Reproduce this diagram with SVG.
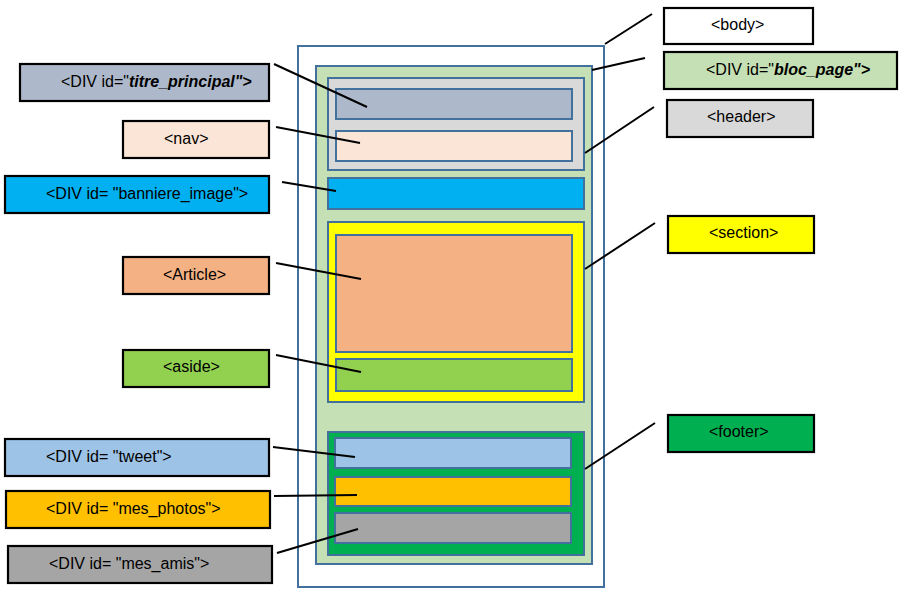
<svg xmlns="http://www.w3.org/2000/svg" width="906" height="592" viewBox="0 0 906 592">
<style>
.blk{stroke:#41719C;stroke-width:2}
.lbl{stroke:#000;stroke-width:2.2}
.t{font-family:"Liberation Sans",Arial,sans-serif;font-size:16px;fill:#000}
.bi{font-weight:bold;font-style:italic}
.con line{stroke:#000;stroke-width:2}
</style>
<rect width="906" height="592" fill="#fff"/>
<g id="structure">
<rect id="body-box" class="blk" x="298" y="46" width="306" height="541" fill="#fff"/>
<rect id="bloc_page-box" class="blk" x="316" y="66" width="276" height="498" fill="#C5E0B4"/>
<rect id="header-box" class="blk" x="328" y="78" width="256" height="92" fill="#D9D9D9"/>
<rect id="titre-box" class="blk" x="336" y="89" width="236" height="30" fill="#ADB9CA"/>
<rect id="nav-box" class="blk" x="336" y="131" width="236" height="30" fill="#FBE5D6"/>
<rect id="banniere-box" class="blk" x="328" y="178" width="256" height="31" fill="#00B0F0"/>
<rect id="section-box" class="blk" x="328" y="222" width="256" height="180" fill="#FFFF00"/>
<rect id="article-box" class="blk" x="336" y="235" width="236" height="117" fill="#F4B183"/>
<rect id="aside-box" class="blk" x="336" y="359" width="236" height="32" fill="#92D050"/>
<rect id="footer-box" class="blk" x="328" y="432" width="256" height="123" fill="#00B050"/>
<rect id="tweet-box" class="blk" x="335" y="438" width="236" height="30" fill="#9DC3E6"/>
<rect id="photos-box" class="blk" x="335" y="477" width="236" height="29" fill="#FFC000"/>
<rect id="amis-box" class="blk" x="335" y="513" width="236" height="30" fill="#A5A5A5"/>
</g>
<g id="connectors" class="con">
<line x1="274" y1="64" x2="367" y2="107"/>
<line x1="276" y1="127" x2="360" y2="143"/>
<line x1="282" y1="182" x2="336" y2="191"/>
<line x1="276" y1="263" x2="361" y2="279"/>
<line x1="276" y1="355" x2="361" y2="372"/>
<line x1="273" y1="447" x2="355" y2="457"/>
<line x1="274" y1="496" x2="357" y2="495"/>
<line x1="277" y1="553" x2="358" y2="529"/>
<line x1="605" y1="44" x2="652" y2="14"/>
<line x1="592" y1="70" x2="645" y2="58"/>
<line x1="585" y1="153" x2="654" y2="107"/>
<line x1="585" y1="269" x2="655" y2="223"/>
<line x1="585" y1="469" x2="655" y2="423"/>
</g>
<g id="titre_principal">
<rect class="lbl" x="20" y="64" width="249" height="37" fill="#ADB9CA"/>
<text class="t" x="61" y="87">&lt;DIV id="<tspan class="bi">titre_principal"&gt;</tspan></text>
</g>
<g id="nav">
<rect class="lbl" x="123" y="121" width="146" height="37" fill="#FBE5D6"/>
<text class="t" x="164" y="144">&lt;nav&gt;</text>
</g>
<g id="banniere_image">
<rect class="lbl" x="5" y="176" width="264" height="37" fill="#00B0F0"/>
<text class="t" x="46" y="199">&lt;DIV id= "banniere_image"&gt;</text>
</g>
<g id="article">
<rect class="lbl" x="123" y="257" width="146" height="37" fill="#F4B183"/>
<text class="t" x="163" y="280">&lt;Article&gt;</text>
</g>
<g id="aside">
<rect class="lbl" x="123" y="350" width="146" height="37" fill="#92D050"/>
<text class="t" x="163" y="372">&lt;aside&gt;</text>
</g>
<g id="tweet">
<rect class="lbl" x="5" y="439" width="264" height="37" fill="#9DC3E6"/>
<text class="t" x="46" y="462">&lt;DIV id= "tweet"&gt;</text>
</g>
<g id="mes_photos">
<rect class="lbl" x="6" y="491" width="264" height="37" fill="#FFC000"/>
<text class="t" x="46" y="514">&lt;DIV id= "mes_photos"&gt;</text>
</g>
<g id="mes_amis">
<rect class="lbl" x="8" y="546" width="264" height="37" fill="#A5A5A5"/>
<text class="t" x="49" y="569">&lt;DIV id= "mes_amis"&gt;</text>
</g>
<g id="body">
<rect class="lbl" x="664" y="8" width="149" height="36" fill="#fff"/>
<text class="t" x="711" y="30">&lt;body&gt;</text>
</g>
<g id="bloc_page">
<rect class="lbl" x="664" y="52" width="233" height="37" fill="#C5E0B4"/>
<text class="t" x="706" y="75">&lt;DIV id="<tspan class="bi">bloc_page"&gt;</tspan></text>
</g>
<g id="header">
<rect class="lbl" x="667" y="100" width="146" height="37" fill="#D9D9D9"/>
<text class="t" x="707" y="122">&lt;header&gt;</text>
</g>
<g id="section">
<rect class="lbl" x="668" y="216" width="146" height="37" fill="#FFFF00"/>
<text class="t" x="709" y="238">&lt;section&gt;</text>
</g>
<g id="footer">
<rect class="lbl" x="668" y="415" width="146" height="37" fill="#00B050"/>
<text class="t" x="709" y="437">&lt;footer&gt;</text>
</g>
</svg>
